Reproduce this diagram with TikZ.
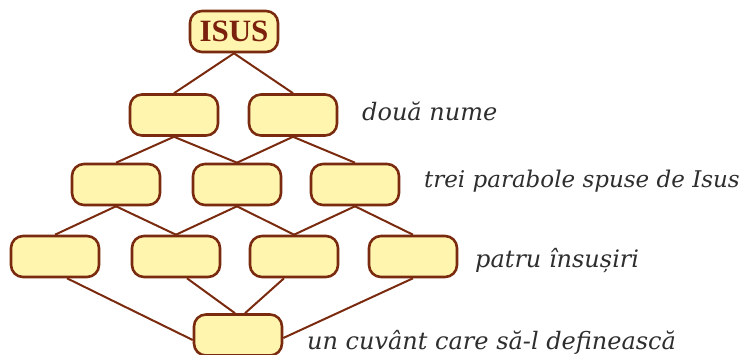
\documentclass[tikz,border=0pt]{standalone}
\usepackage{fontspec}
\setmainfont{DejaVu Serif}
\newfontfamily\titlefont{Liberation Serif}
\definecolor{boxline}{HTML}{7A2A0E}
\definecolor{boxfill}{HTML}{FFF5AE}
\definecolor{labeltext}{HTML}{2E2E2E}
\definecolor{titletext}{HTML}{7A200C}
\begin{document}
\begin{tikzpicture}[x=1pt,y=-1pt,
  cell/.style={draw=boxline,fill=boxfill,line width=2.6pt,rounded corners=12pt,
    minimum width=88pt,minimum height=41pt,inner sep=0pt},
  link/.style={draw=boxline,line width=2pt},
  lbl/.style={anchor=base west,inner sep=0pt,text=labeltext,font=\fontsize{24}{28}\selectfont\itshape}]
\useasboundingbox (0,0) rectangle (745,355);
\coordinate (t) at (234,31.5);
\coordinate (a1) at (174,115); \coordinate (a2) at (293,115);
\coordinate (b1) at (116,184.5); \coordinate (b2) at (237,184.5); \coordinate (b3) at (355,184.5);
\coordinate (c1) at (55,256.5); \coordinate (c2) at (176,256.5); \coordinate (c3) at (294,256.5); \coordinate (c4) at (413,256.5);
\coordinate (d) at (238,335);
\node[cell] (T) at (t) {\titlefont\fontsize{31}{33}\selectfont\bfseries\color{titletext}ISUS};
\node[cell] (A1) at (a1) {}; \node[cell] (A2) at (a2) {};
\node[cell] (B1) at (b1) {}; \node[cell] (B2) at (b2) {}; \node[cell] (B3) at (b3) {};
\node[cell] (C1) at (c1) {}; \node[cell] (C2) at (c2) {}; \node[cell] (C3) at (c3) {}; \node[cell] (C4) at (c4) {};
\node[cell] (D) at (d) {};
\path[link] (T.south) -- (A1.north) (T.south) -- (A2.north);
\path[link] (A1.south) -- (B1.north) (A1.south) -- (B2.north)
            (A2.south) -- (B2.north) (A2.south) -- (B3.north);
\path[link] (B1.south) -- (C1.north) (B1.south) -- (C2.north)
            (B2.south) -- (C2.north) (B2.south) -- (C3.north)
            (B3.south) -- (C3.north) (B3.south) -- (C4.north);
\path[link] ([xshift=12pt]C1.south) -- ([yshift=-5pt]D.west)
            ([xshift=11pt]C2.south) -- ([xshift=-3pt]D.north)
            ([xshift=-10pt]C3.south) -- ([xshift=7pt]D.north)
            (C4.south) -- ([yshift=-3pt]D.east);
\node[lbl] (L1) at (362,121) {două nume};
\node[lbl,anchor=base east,font=\fontsize{23}{28}\selectfont\itshape] (L2) at (740,188) {trei parabole spuse de Isus};
\node[lbl] (L3) at (475,268) {patru însușiri};
\node[lbl] (L4) at (307,350) {un cuvânt care să-l definească};
\end{tikzpicture}
\end{document}
